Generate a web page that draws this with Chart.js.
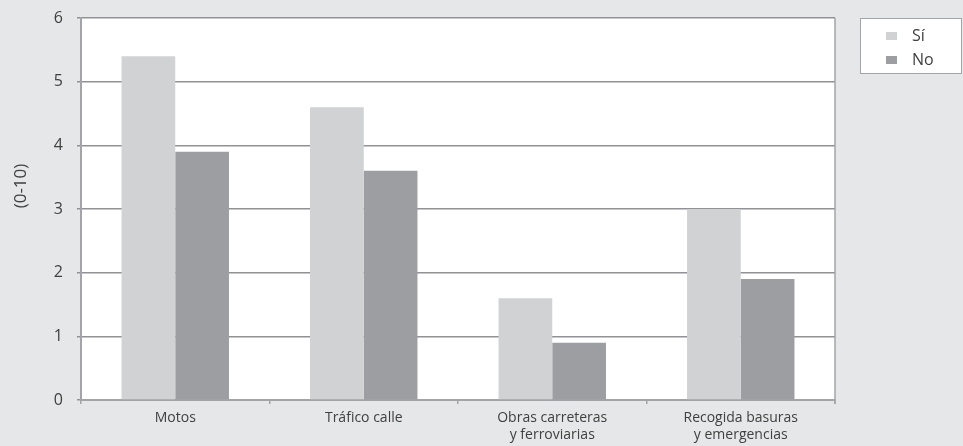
<!DOCTYPE html>
<html lang="es">
<head>
    <meta charset="UTF-8">
    <title>Molestias por ruido</title>
    <script src="https://cdn.jsdelivr.net/npm/chart.js"></script>
    <style>
        html, body {
            margin: 0;
            padding: 0;
            background-color: #e6e7e8;
        }
        .wrap {
            width: 963px;
            height: 446px;
        }
    </style>
</head>
<body>
    <div class="wrap">
        <canvas id="grafico" width="963" height="446"></canvas>
    </div>

    <script>
        const categorias = ['Motos', 'Tráfico calle', ['Obras carreteras', 'y ferroviarias'], ['Recogida basuras', 'y emergencias']];
        const valoresSi = [5.4, 4.6, 1.6, 3.0];
        const valoresNo = [3.9, 3.6, 0.9, 1.9];
        const tituloEje = '(0-10)';

        const fuente = "'Open Sans', 'DejaVu Sans', sans-serif";
        const colorTexto = '#404040';

        // fondo blanco del área de trazado y marco derecho
        const areaBlanca = {
            id: 'areaBlanca',
            beforeDraw(chart) {
                const { ctx, chartArea: a } = chart;
                ctx.save();
                ctx.fillStyle = '#ffffff';
                ctx.fillRect(a.left, a.top, a.right - a.left, a.bottom - a.top);
                ctx.restore();
            },
            afterDraw(chart) {
                const { ctx, chartArea: a } = chart;
                ctx.save();
                ctx.strokeStyle = '#a3a4a7';
                ctx.lineWidth = 1.5;
                ctx.beginPath();
                ctx.moveTo(a.right, a.top);
                ctx.lineTo(a.right, a.bottom + 4);
                ctx.stroke();

                // título del eje vertical
                ctx.fillStyle = colorTexto;
                ctx.font = '17px ' + fuente;
                ctx.translate(21, 186);
                ctx.rotate(-Math.PI / 2);
                ctx.textAlign = 'center';
                ctx.textBaseline = 'middle';
                ctx.fillText(tituloEje, 0, 0);
                ctx.restore();
            }
        };

        // leyenda en recuadro a la derecha
        const leyendaCaja = {
            id: 'leyendaCaja',
            afterDraw(chart) {
                const { ctx } = chart;
                ctx.save();
                ctx.fillStyle = '#ffffff';
                ctx.fillRect(860, 18, 102, 56);
                ctx.strokeStyle = '#a3a4a7';
                ctx.lineWidth = 1;
                ctx.strokeRect(860.5, 18.5, 101, 55);
                ctx.font = '16px ' + fuente;
                ctx.textBaseline = 'middle';
                chart.data.datasets.forEach((ds, i) => {
                    const y = 36 + i * 24;
                    ctx.fillStyle = ds.backgroundColor;
                    ctx.fillRect(886, y - 4, 11, 8);
                    ctx.fillStyle = colorTexto;
                    ctx.fillText(ds.label, 912, y);
                });
                ctx.restore();
            }
        };

        new Chart(document.getElementById('grafico'), {
            type: 'bar',
            data: {
                labels: categorias,
                datasets: [
                    {
                        label: 'Sí',
                        data: valoresSi,
                        backgroundColor: '#d1d2d4',
                        categoryPercentage: 0.57,
                        barPercentage: 1.0
                    },
                    {
                        label: 'No',
                        data: valoresNo,
                        backgroundColor: '#9d9ea2',
                        categoryPercentage: 0.57,
                        barPercentage: 1.0
                    }
                ]
            },
            options: {
                responsive: false,
                animation: false,
                layout: {
                    padding: { left: 0, right: 128, top: 18, bottom: 0 }
                },
                plugins: {
                    legend: { display: false },
                    tooltip: { enabled: false }
                },
                scales: {
                    x: {
                        afterFit(scale) {
                            scale.height = 46;
                            scale.paddingLeft = 0;
                            scale.paddingRight = 0;
                        },
                        grid: {
                            display: true,
                            offset: true,
                            drawOnChartArea: false,
                            tickLength: 4,
                            color: '#a3a4a7',
                            lineWidth: 1.5
                        },
                        border: { color: '#a3a4a7', width: 2 },
                        ticks: {
                            color: colorTexto,
                            font: { family: fuente, size: 14 },
                            padding: 6,
                            maxRotation: 0
                        }
                    },
                    y: {
                        min: 0,
                        max: 6,
                        afterFit(scale) {
                            scale.width = 81;
                            scale.paddingTop = 0;
                            scale.paddingBottom = 0;
                        },
                        grid: {
                            color: '#919296',
                            lineWidth: 1.5,
                            tickLength: 4
                        },
                        border: { color: '#a3a4a7', width: 2 },
                        ticks: {
                            stepSize: 1,
                            color: colorTexto,
                            font: { family: fuente, size: 16 },
                            padding: 14
                        }
                    }
                }
            },
            plugins: [areaBlanca, leyendaCaja]
        });
    </script>
</body>
</html>
